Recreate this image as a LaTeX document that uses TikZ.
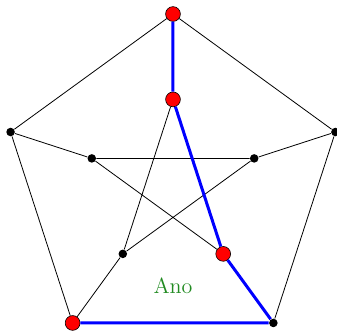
\documentclass[tikz,border=0pt]{standalone}
\usepackage{tikz}
\usetikzlibrary{calc, positioning}
\definecolor{pathblue}{RGB}{0, 0, 255}
\definecolor{labelgreen}{RGB}{34, 139, 34}

\begin{document}
\begin{tikzpicture}[font=\fontsize{11}{13}\selectfont,
    vtx/.style={circle, fill=black, inner sep=0pt, minimum size=0.15cm},
    hit/.style={circle, draw=black, fill=red, inner sep=0pt, minimum size=0.26cm, line width=0.3pt},
    edge/.style={black, line width=0.4pt},
    tour/.style={pathblue, line width=1.5pt}]
  \useasboundingbox (-3.039,-2.568) rectangle (2.881,3.246);
  % Outer pentagon (o) and inner star (i), marked ones in red
  \foreach \i/\a/\so/\si in {1/90/hit/hit, 2/162/vtx/vtx, 3/234/hit/vtx, 4/306/vtx/hit, 5/18/vtx/vtx} {
    \node[\so] (o\i) at (\a:3) {};
    \node[\si] (i\i) at (\a:1.5) {};
  }

  % Black edges
  \draw[edge] (o1) -- (o2) -- (o3);
  \draw[edge] (o4) -- (o5) -- (o1);
  \foreach \i in {2,3,5} \draw[edge] (o\i) -- (i\i);
  \draw[edge] (i1) -- (i3) -- (i5) -- (i2) -- (i4);

  % Blue path
  \draw[tour] (o1) -- (i1) -- (i4) -- (o4) -- (o3);

  \node[text=labelgreen] (ano) at (0,-1.778) {Ano};
\end{tikzpicture}
\end{document}
